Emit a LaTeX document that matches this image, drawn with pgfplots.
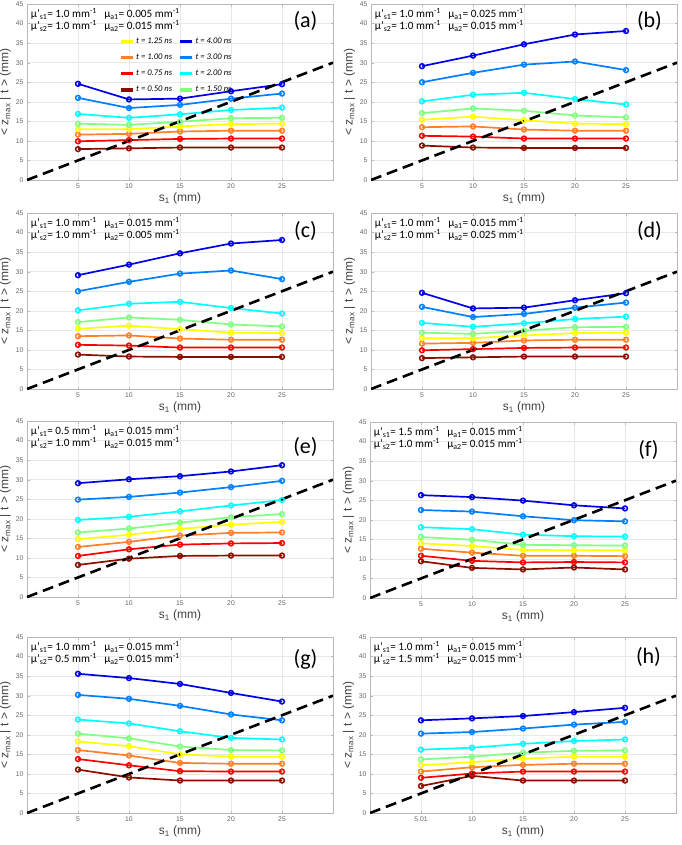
\documentclass[border=0pt]{standalone}
\usepackage{fontspec}
\setmainfont{Liberation Sans}
\newfontfamily\calfont{Carlito}
\usepackage{pgfplots}
\usepackage{pgfplotstable}
\pgfplotsset{compat=1.18}

\definecolor{c050}{rgb}{0.55,0.05,0.0}
\definecolor{c075}{rgb}{1,0,0}
\definecolor{c100}{rgb}{1,0.5,0.15}
\definecolor{c125}{rgb}{1,1,0}
\definecolor{c150}{rgb}{0.5,1,0.5}
\definecolor{c200}{rgb}{0,1,1}
\definecolor{c300}{rgb}{0,0.5,1}
\definecolor{c400}{rgb}{0,0,0.9}

% panels (a) and (d)
\pgfplotstableread{
s  t050 t075 t100 t125 t150 t200 t300 t400
5  7.9  9.9  11.6 13.0 14.4 16.9 21.0 24.6
10 8.1  10.2 11.8 13.0 14.1 15.9 18.4 20.6
15 8.3  10.5 12.4 13.7 14.9 16.8 19.2 20.8
20 8.3  10.6 12.6 14.3 15.8 17.9 20.8 22.7
25 8.3  10.6 12.6 14.4 15.9 18.5 22.1 24.5
}\tabA
% panels (b) and (c)
\pgfplotstableread{
s  t050 t075 t100 t125 t150 t200 t300 t400
5  8.8  11.3 13.5 15.4 17.1 20.1 25.0 29.1
10 8.3  11.1 13.7 16.2 18.3 21.8 27.4 31.8
15 8.2  10.6 12.9 15.3 17.7 22.3 29.5 34.7
20 8.2  10.6 12.6 14.4 16.5 20.7 30.3 37.2
25 8.2  10.6 12.6 14.3 16.0 19.3 28.1 38.1
}\tabB
% panel (e)
\pgfplotstableread{
s  t050 t075 t100 t125 t150 t200 t300 t400
5  8.2  10.5 12.8 14.8 16.5 19.7 24.9 29.1
10 9.8  12.2 14.1 15.9 17.5 20.5 25.6 30.1
15 10.5 13.4 15.7 17.4 19.0 21.9 26.7 30.9
20 10.6 13.7 16.4 18.5 20.4 23.4 28.1 32.1
25 10.6 13.8 16.5 19.2 21.2 24.8 29.7 33.7
}\tabE
% panel (f)
\pgfplotstableread{
s  t050 t075 t100 t125 t150 t200 t300 t400
5  9.4  10.8 12.6 14.0 15.6 18.1 22.5 26.3
10 7.7  9.5  11.6 13.3 14.9 17.6 22.1 25.8
15 7.3  9.1  10.8 12.3 13.6 16.2 20.9 24.9
20 7.8  9.2  10.8 12.2 13.5 15.8 19.9 23.7
25 7.3  9.1  10.7 12.2 13.4 15.7 19.6 22.9
}\tabF
% panel (g)
\pgfplotstableread{
s  t050 t075 t100 t125 t150 t200 t300 t400
5  11.1 13.8 16.1 18.3 20.3 23.9 30.2 35.6
10 9.1  12.2 14.7 17.1 19.1 22.9 29.2 34.5
15 8.3  10.7 12.8 15.0 17.0 20.9 27.4 33.0
20 8.3  10.6 12.6 14.4 16.1 19.2 25.2 30.7
25 8.3  10.6 12.6 14.4 16.0 18.8 23.7 28.5
}\tabG
% panel (h)
\pgfplotstableread{
s  t050 t075 t100 t125 t150 t200 t300 t400
5  6.9  9.0  10.6 12.2 13.7 16.2 20.3 23.7
10 9.5  10.1 11.7 13.0 14.4 16.7 20.7 24.2
15 8.3  10.6 12.3 13.9 15.4 17.7 21.6 24.8
20 8.3  10.6 12.6 14.4 15.9 18.4 22.6 25.8
25 8.3  10.6 12.6 14.4 16.0 18.8 23.3 26.9
}\tabH

\pgfplotsset{
  panel/.style={
    scale only axis, width=306pt, height=176pt, anchor=south west,
    xmin=0, xmax=30, ymin=0, ymax=45,
    xtick={5,10,15,20,25}, ytick={0,5,...,45},
    grid=major, grid style={gray!18, line width=0.4pt},
    axis line style={gray!55, line width=0.5pt},
    tick style={gray!55}, tick align=inside, major tick length=2.5pt,
    ticklabel style={font=\fontsize{6.8}{7}\selectfont, text=black!60},
    /pgf/number format/assume math mode=true,
    xlabel={s\textsubscript{1} (mm)},
    ylabel={< z\textsubscript{max} | t > (mm)},
    label style={font=\fontsize{12}{12}\selectfont, text=black!75},
    xlabel style={yshift=2pt},
    ylabel style={yshift=-2pt},
    legend image code/.code={\draw[line width=3.3pt,##1] (0pt,0pt) -- (12pt,0pt);},
  },
  ser/.style={#1, line width=1.7pt, mark=o, mark size=2.4pt,
    mark options={line width=1.5pt}, forget plot},
}

\newcommand\series[1]{%
  \addplot[ser=c050] table[x=s,y=t050]{#1};
  \addplot[ser=c075] table[x=s,y=t075]{#1};
  \addplot[ser=c100] table[x=s,y=t100]{#1};
  \addplot[ser=c125] table[x=s,y=t125]{#1};
  \addplot[ser=c150] table[x=s,y=t150]{#1};
  \addplot[ser=c200] table[x=s,y=t200]{#1};
  \addplot[ser=c300] table[x=s,y=t300]{#1};
  \addplot[ser=c400] table[x=s,y=t400]{#1};
  \addplot[black, line width=2.6pt, dash pattern=on 11pt off 6pt, forget plot]
    coordinates {(0,0) (30,30)};
}
% #1 label, #2 label rel y, #3 mu's1, #4 mua1, #5 mu's2, #6 mua2
\newcommand\notes[6]{%
  \node[anchor=west, font=\calfont\fontsize{11.2}{11}\selectfont, inner sep=0pt]
    at (rel axis cs:0.012,0.943) {μ’\textsubscript{s1}= #3 mm\textsuperscript{-1}};
  \node[anchor=west, font=\calfont\fontsize{11.2}{11}\selectfont, inner sep=0pt]
    at (rel axis cs:0.252,0.943) {μ\textsubscript{a1}= #4 mm\textsuperscript{-1}};
  \node[anchor=west, font=\calfont\fontsize{11.2}{11}\selectfont, inner sep=0pt]
    at (rel axis cs:0.012,0.874) {μ’\textsubscript{s2}= #5 mm\textsuperscript{-1}};
  \node[anchor=west, font=\calfont\fontsize{11.2}{11}\selectfont, inner sep=0pt]
    at (rel axis cs:0.252,0.874) {μ\textsubscript{a2}= #6 mm\textsuperscript{-1}};
  \node[font=\calfont\fontsize{22}{22}\selectfont] at (rel axis cs:0.91,#2) {(#1)};
}

\begin{document}
\begin{tikzpicture}
\useasboundingbox (0pt,0pt) rectangle (681pt,-845pt);

% (a)
\begin{axis}[panel, at={(27pt,-180pt)},
  legend columns=2, legend cell align=left,
  legend style={at={(rel axis cs:0.29,0.83)}, anchor=north west,
    draw=none, fill=none, font=\calfont\itshape\fontsize{8.6}{8.6}\selectfont,
    /tikz/every even column/.append style={column sep=4pt},
    row sep=5pt}]
  \addlegendimage{c125}\addlegendentry{t = 1.25 ns}
  \addlegendimage{c400}\addlegendentry{t = 4.00 ns}
  \addlegendimage{c100}\addlegendentry{t = 1.00 ns}
  \addlegendimage{c300}\addlegendentry{t = 3.00 ns}
  \addlegendimage{c075}\addlegendentry{t = 0.75 ns}
  \addlegendimage{c200}\addlegendentry{t = 2.00 ns}
  \addlegendimage{c050}\addlegendentry{t = 0.50 ns}
  \addlegendimage{c150}\addlegendentry{t = 1.50 ns}
  \series{\tabA}
  \notes{a}{0.905}{1.0}{0.005}{1.0}{0.015}
\end{axis}

% (b)
\begin{axis}[panel, at={(371pt,-180pt)}]
  \series{\tabB}
  \notes{b}{0.905}{1.0}{0.025}{1.0}{0.015}
\end{axis}

% (c)
\begin{axis}[panel, at={(27pt,-389pt)}]
  \series{\tabB}
  \notes{c}{0.9}{1.0}{0.015}{1.0}{0.005}
\end{axis}

% (d)
\begin{axis}[panel, at={(371pt,-389pt)}]
  \series{\tabA}
  \notes{d}{0.9}{1.0}{0.015}{1.0}{0.025}
\end{axis}

% (e)
\begin{axis}[panel, at={(27pt,-597pt)}]
  \series{\tabE}
  \notes{e}{0.85}{0.5}{0.015}{1.0}{0.015}
\end{axis}

% (f)
\begin{axis}[panel, at={(370pt,-598pt)}]
  \series{\tabF}
  \notes{f}{0.84}{1.5}{0.015}{1.0}{0.015}
\end{axis}

% (g)
\begin{axis}[panel, at={(27pt,-813pt)}]
  \series{\tabG}
  \notes{g}{0.875}{1.0}{0.015}{0.5}{0.015}
\end{axis}

% (h)
\begin{axis}[panel, at={(370pt,-813pt)}, xticklabels={5.01,10,15,20,25}]
  \series{\tabH}
  \notes{h}{0.885}{1.0}{0.015}{1.5}{0.015}
\end{axis}
\end{tikzpicture}
\end{document}
